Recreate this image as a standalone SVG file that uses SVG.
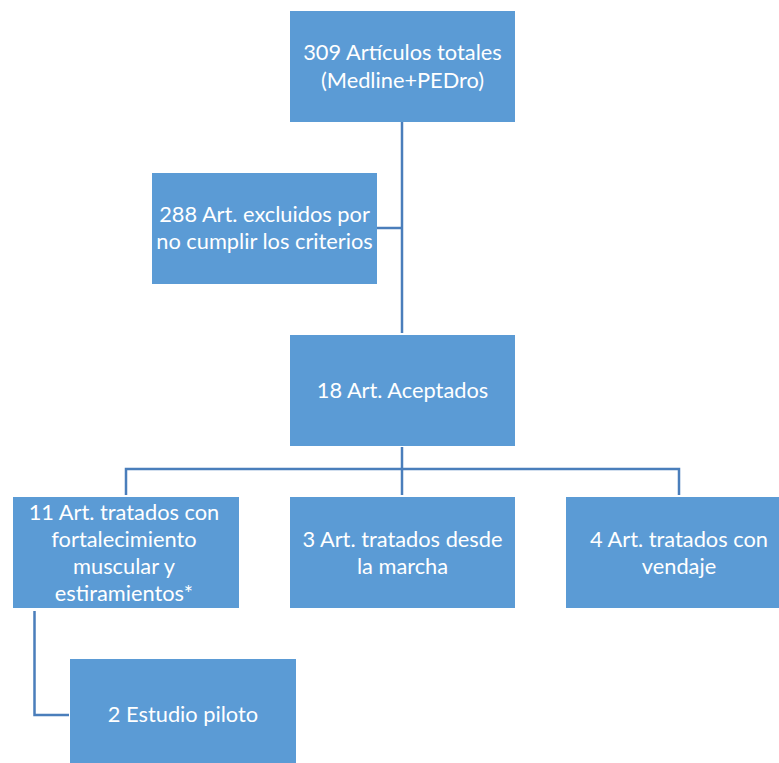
<svg xmlns="http://www.w3.org/2000/svg" width="779" height="763" viewBox="0 0 779 763">
<style>
.box{fill:#5B9BD5;}
.t{font-family:Lato,"Open Sans","Liberation Sans",sans-serif;font-size:21.8px;fill:#ffffff;text-anchor:middle;}
.c{fill:none;stroke:#4A7EBB;stroke-width:2.5;}
</style>
<rect width="779" height="763" fill="#ffffff"/>
<g id="connectors">
<path class="c" d="M402 122 V333"/>
<path class="c" d="M377 228 H402"/>
<path class="c" d="M402 447 V495"/>
<path class="c" d="M126 495 V469 H679 V495"/>
<path class="c" d="M34.5 611 V715 H69"/>
</g>
<g id="n1"><rect class="box" x="290" y="11" width="225" height="111"/>
<text class="t" x="402.5" y="60">309 Artículos totales</text>
<text class="t" x="402.5" y="88">(Medline+PEDro)</text></g>
<g id="n2"><rect class="box" x="152" y="173" width="225" height="111"/>
<text class="t" x="264.5" y="222">288 Art. excluidos por</text>
<text class="t" x="264.5" y="249">no cumplir los criterios</text></g>
<g id="n3"><rect class="box" x="290" y="335" width="225" height="111"/>
<text class="t" x="402.5" y="398">18 Art. Aceptados</text></g>
<g id="n4"><rect class="box" x="13" y="497" width="226" height="111"/>
<text class="t" x="124" y="520">11 Art. tratados con</text>
<text class="t" x="124" y="547">fortalecimiento</text>
<text class="t" x="124" y="574">muscular y</text>
<text class="t" x="124" y="601">estiramientos*</text></g>
<g id="n5"><rect class="box" x="290" y="497" width="225" height="111"/>
<text class="t" x="402.5" y="547">3 Art. tratados desde</text>
<text class="t" x="402.5" y="574">la marcha</text></g>
<g id="n6"><rect class="box" x="566" y="497" width="226" height="111"/>
<text class="t" x="679" y="547">4 Art. tratados con</text>
<text class="t" x="679" y="574">vendaje</text></g>
<g id="n7"><rect class="box" x="70" y="659" width="226" height="111"/>
<text class="t" x="183" y="722">2 Estudio piloto</text></g>
</svg>
